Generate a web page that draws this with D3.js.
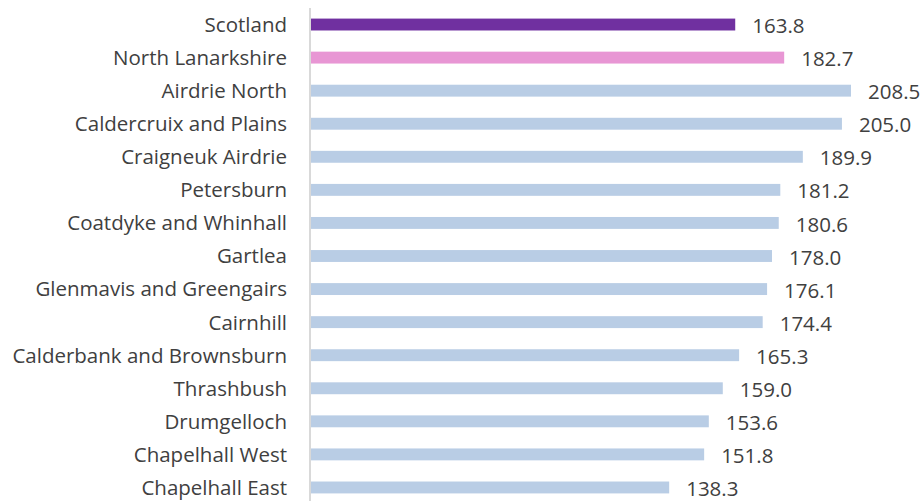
<!DOCTYPE html>
<html>
<head>
<meta charset="utf-8">
<script src="https://cdn.jsdelivr.net/npm/d3@7"></script>
<style>
  body { margin: 0; background: #fff; }
  text { font-family: "Open Sans", sans-serif; }
</style>
</head>
<body>
<div id="chart"></div>
<script>
const areas = ["Scotland", "North Lanarkshire", "Airdrie North", "Caldercruix and Plains",
  "Craigneuk Airdrie", "Petersburn", "Coatdyke and Whinhall", "Gartlea",
  "Glenmavis and Greengairs", "Cairnhill", "Calderbank and Brownsburn", "Thrashbush",
  "Drumgelloch", "Chapelhall West", "Chapelhall East"];
const rates = [163.8, 182.7, 208.5, 205.0, 189.9, 181.2, 180.6, 178.0, 176.1, 174.4,
  165.3, 159.0, 153.6, 151.8, 138.3];
const barColours = ["#7030a0", "#e896d4"]; // the rest are light blue

var W = 924, H = 501;
var left = 311;

const svg = d3.select('#chart').append('svg')
    .attr('width', W).attr('height', H);

const x = d3.scaleLinear().domain([0, 208.5]).range([left, 851]);
const y = d3.scaleBand()
    .domain(d3.range(areas.length))
    .range([8, 504])
    .paddingInner(0.64)
    .paddingOuter(0.32);

svg.append('g')
    .selectAll('rect')
    .data(rates)
    .join('rect')
    .attr('x', x(0))
    .attr('y', (d, i) => y(i))
    .attr('width', d => x(d) - x(0))
    .attr('height', y.bandwidth())
    .attr('fill', (d, i) => barColours[i] || '#b9cde5');

// axis line
svg.append('line')
    .attr('x1', 310).attr('x2', 310)
    .attr('y1', 8).attr('y2', H)
    .attr('stroke', '#d9d9d9').attr('stroke-width', 2);

// category labels
svg.append('g')
    .selectAll('text')
    .data(areas)
    .join('text')
    .attr('x', 287)
    .attr('y', (d, i) => y(i) + y.bandwidth() / 2)
    .attr('dy', '0.36em')
    .attr('text-anchor', 'end')
    .attr('font-size', '20.5px')
    .attr('fill', '#404040')
    .text(d => d);

// value labels
svg.append('g')
    .selectAll('text')
    .data(rates)
    .join('text')
    .attr('x', d => x(d) + 17)
    .attr('y', (d, i) => y(i) + y.bandwidth() / 2)
    .attr('dy', '0.42em')
    .attr('font-size', '20.5px')
    .attr('fill', '#404040')
    .text(d => d.toFixed(1));
</script>
</body>
</html>
